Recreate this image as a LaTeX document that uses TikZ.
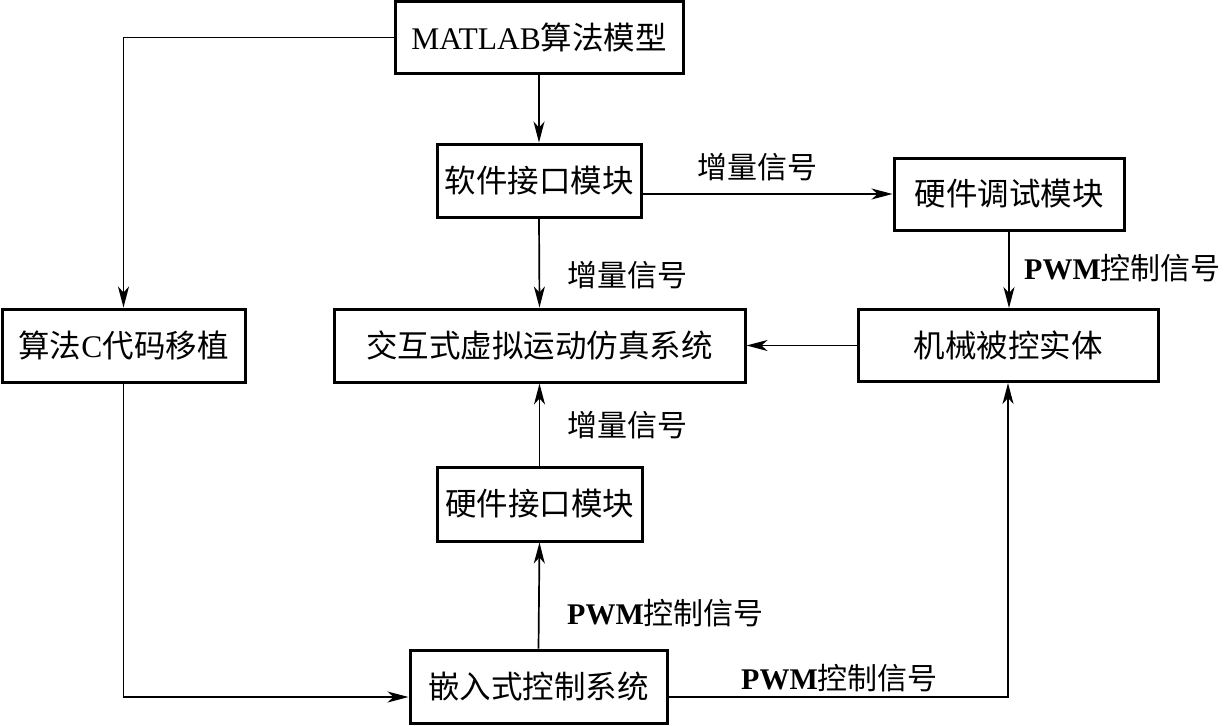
\documentclass[tikz,border=0pt]{standalone}
\usepackage{fontspec}
\setmainfont{Liberation Serif}
\newfontfamily\cjk{Noto Sans CJK SC}
\usetikzlibrary{arrows.meta}
\tikzset{
 blk/.style={draw, line width=3pt, inner sep=0pt, font=\fontsize{31.5}{36}\selectfont},
 lbl/.style={inner sep=0pt, font=\fontsize{30}{36}\selectfont, anchor=west},
 conn/.style={line width=1.7pt, -{Stealth[length=21pt,width=11pt,inset=6pt]}},
 wire/.style={line width=1.7pt}
}
\begin{document}
\begin{tikzpicture}[x=1pt,y=-1pt]
\useasboundingbox (0,0) rectangle (1225,725);
\node[blk, minimum width=288pt, minimum height=71pt] (mat) at (539,37.5) {MATLAB{\cjk 算法模型}};
\node[blk, minimum width=204pt, minimum height=73pt] (soft) at (539,180.5) {\cjk 软件接口模块};
\node[blk, minimum width=230pt, minimum height=72pt] (hd) at (1009,194) {\cjk 硬件调试模块};
\node[blk, minimum width=243pt, minimum height=73pt] (algc) at (123.5,345.5) {{\cjk 算法}C{\cjk 代码移植}};
\node[blk, minimum width=411pt, minimum height=73pt] (sim) at (539.5,345.5) {\cjk 交互式虚拟运动仿真系统};
\node[blk, minimum width=300pt, minimum height=72pt] (mech) at (1008,345.5) {\cjk 机械被控实体};
\node[blk, minimum width=205pt, minimum height=74pt] (hwi) at (539.5,504) {\cjk 硬件接口模块};
\node[blk, minimum width=257pt, minimum height=73pt] (emb) at (538.5,686.5) {\cjk 嵌入式控制系统};

\node[lbl] (l1) at (697,167) {\cjk 增量信号};
\node[lbl] (l2) at (567,275) {\cjk 增量信号};
\node[lbl] (l3) at (1024,268) {\textbf{PWM}{\cjk 控制信号}};
\node[lbl] (l4) at (567,425) {\cjk 增量信号};
\node[lbl] (l5) at (567,613) {\textbf{PWM}{\cjk 控制信号}};
\node[lbl] (l6) at (741,678) {\textbf{PWM}{\cjk 控制信号}};

\draw[conn] (mat.west) -| (algc.north);
\draw[conn] (mat.south) -- (soft.north);
\draw[conn] (soft.east |- hd.west) -- (hd.west);
\draw[conn] (soft.south) -- (sim.north);
\draw[conn] (hd.south) -- (hd.south |- mech.north);
\draw[conn] (mech.west) -- (sim.east);
\draw[conn] (hwi.north) -- (sim.south);
\draw[conn] (emb.north) -- (hwi.south);
\draw[conn] (algc.south) |- ([yshift=-10.5pt]emb.west);
\draw[conn] ([yshift=-10.5pt]emb.east) -| (mech.south);
\end{tikzpicture}
\end{document}
